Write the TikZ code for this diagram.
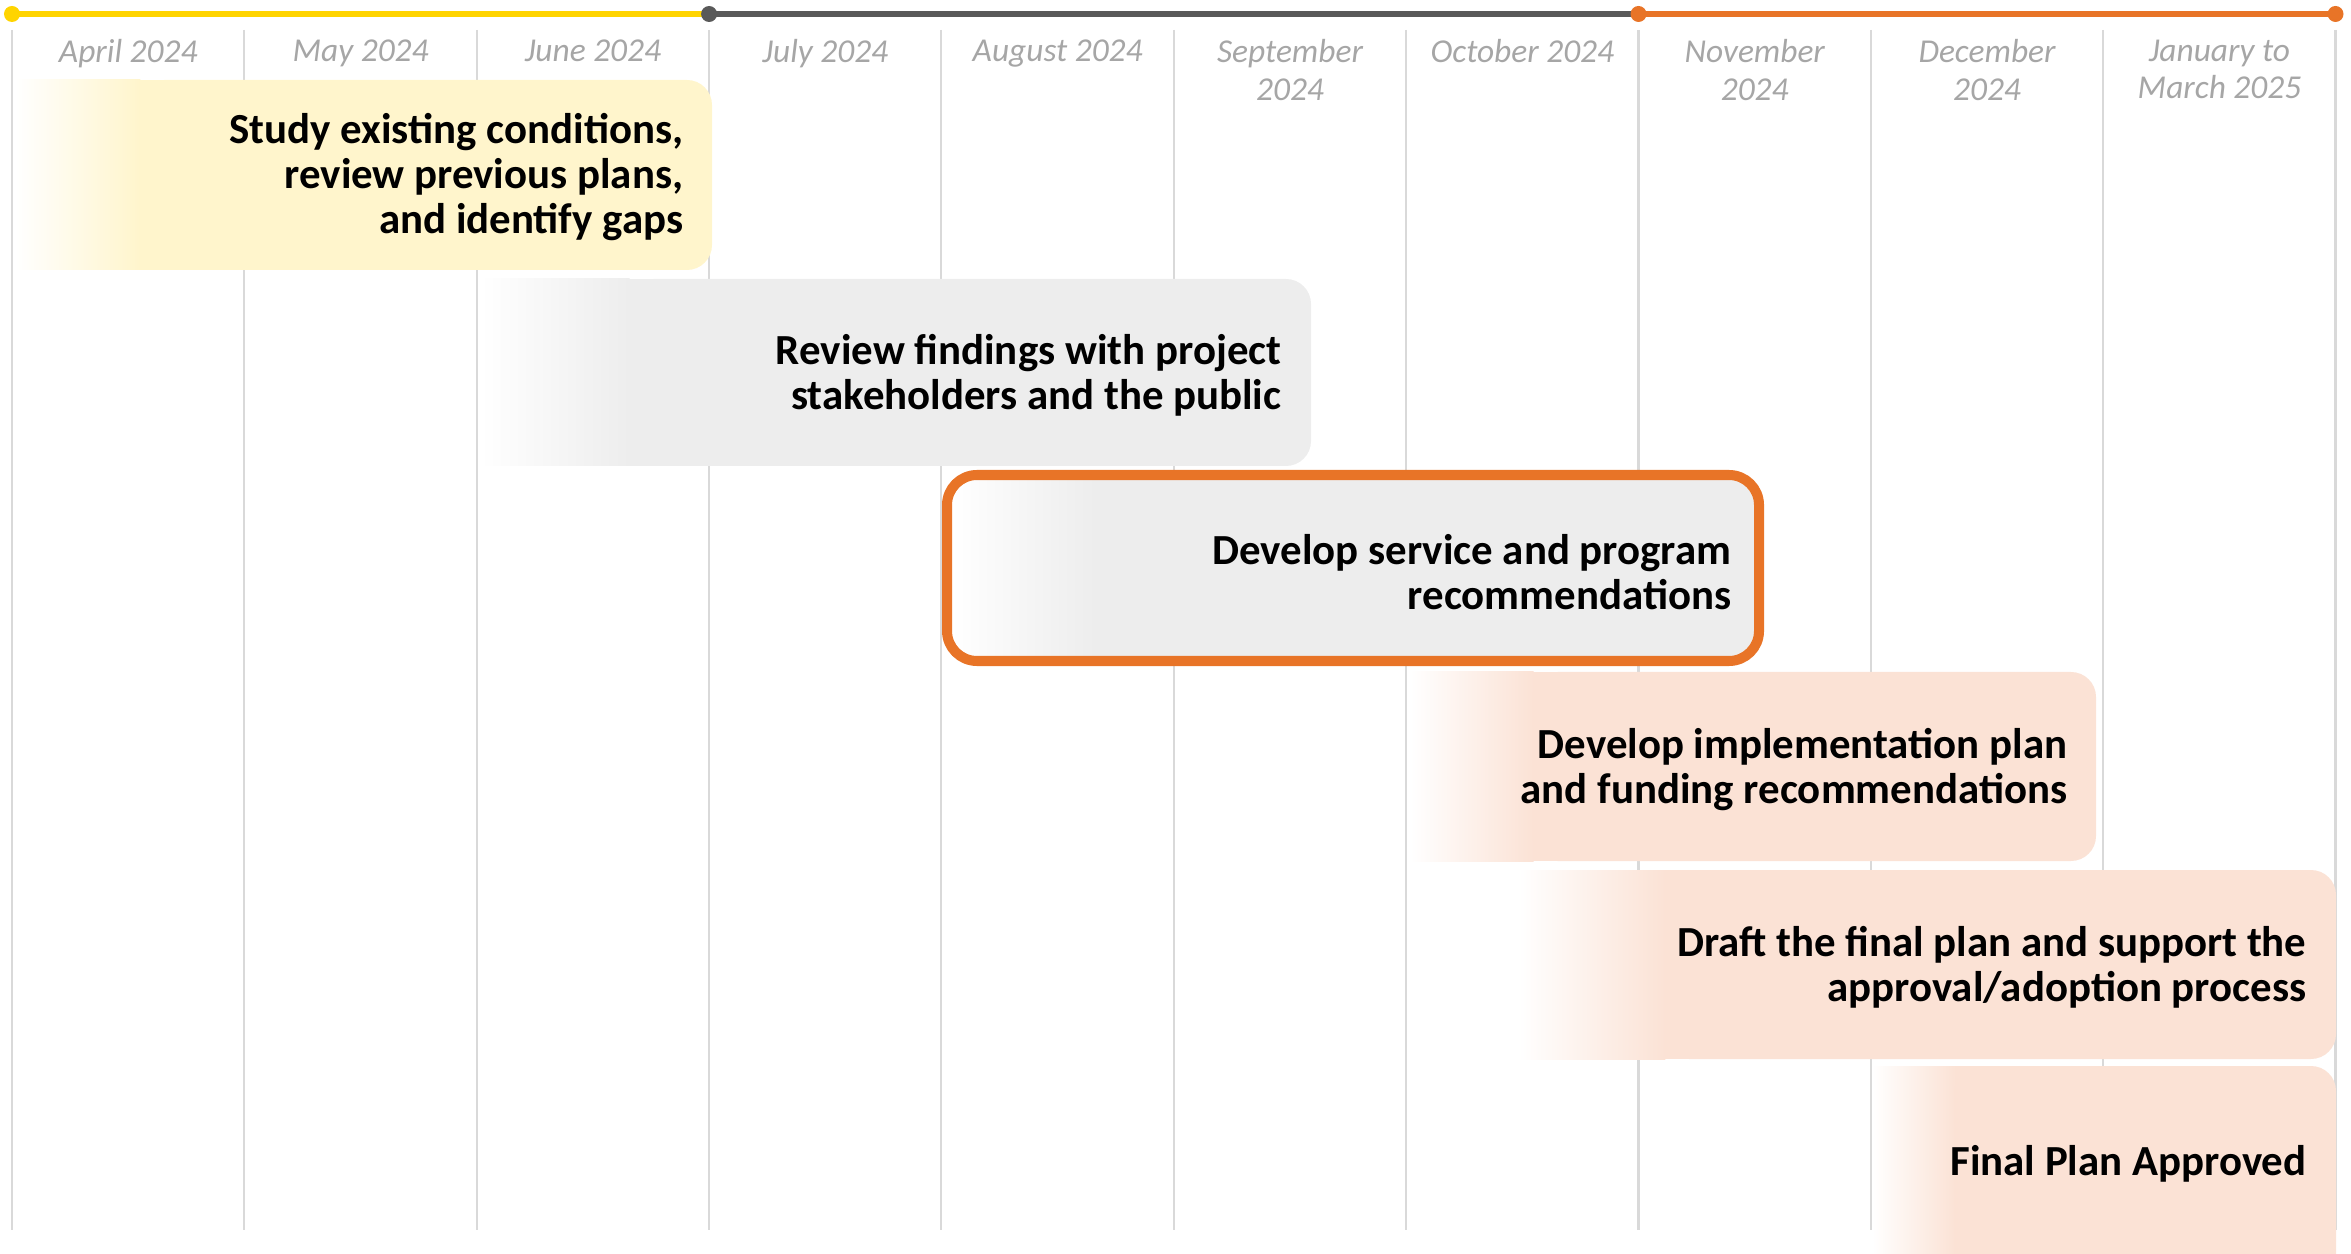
\documentclass[tikz,border=0pt]{standalone}
\usepackage{fontspec}
\setmainfont{Carlito}
\usepackage{tikz}

\definecolor{tlyellow}{HTML}{FFD400}
\definecolor{tlgray}{HTML}{595959}
\definecolor{tlorange}{HTML}{E87427}
\definecolor{gridgray}{HTML}{D9D9D9}
\definecolor{monthgray}{HTML}{A6A6A6}
\definecolor{fillyellow}{HTML}{FFF5CC}
\definecolor{fillgray}{HTML}{EDEDED}
\definecolor{fillpeach}{HTML}{FBE2D5}

\tikzset{gridline/.style={gridgray, line width=0.6pt}}
\tikzset{month/.style={anchor=north, align=center, inner sep=0pt, text=monthgray,
font=\itshape\fontsize{9.5}{10.7}\selectfont}}
\tikzset{task/.style={anchor=east, align=right, inner sep=0pt,
font=\bfseries\fontsize{12.2}{12.8}\selectfont}}
\tikzset{dot/.style={circle, fill=#1, inner sep=0pt, minimum size=0.16cm}}
\tikzset{phase/.style={line width=1.8pt, #1}}

% left, top, right, bottom, colour
\newcommand{\fadebar}[5]{
  \pgfmathsetmacro{\barfw}{0.18*(#3-#1)}
  \shade[left color=white, right color=#5] (#1,#2) rectangle ({#1+\barfw},#4);
  \fill[#5, rounded corners=0.25cm] ({#1+\barfw-0.01},#2) rectangle (#3,#4);
  \fill[#5] ({#1+\barfw-0.01},#2) rectangle ({#1+\barfw+0.3},#4);
}

\begin{document}
\begin{tikzpicture}[
]
\clip (0,0) rectangle (23.51,-12.54);

\draw [gridline] (0.12,-0.30) -- (0.12,-12.30);
\draw [gridline] (2.444,-0.30) -- (2.444,-12.30);
\draw [gridline] (4.767,-0.30) -- (4.767,-12.30);
\draw [gridline] (7.091,-0.30) -- (7.091,-12.30);
\draw [gridline] (9.414,-0.30) -- (9.414,-12.30);
\draw [gridline] (11.738,-0.30) -- (11.738,-12.30);
\draw [gridline] (14.061,-0.30) -- (14.061,-12.30);
\draw [gridline] (16.385,-0.30) -- (16.385,-12.30);
\draw [gridline] (18.708,-0.30) -- (18.708,-12.30);
\draw [gridline] (21.032,-0.30) -- (21.032,-12.30);
\draw [gridline] (23.355,-0.30) -- (23.355,-12.30);

\fadebar{0.15}{-0.80}{7.12}{-2.70}{fillyellow}
\fadebar{4.80}{-2.79}{13.11}{-4.66}{fillgray}
\fadebar{9.50}{-4.78}{17.56}{-6.58}{fillgray}
\fadebar{14.10}{-6.72}{20.96}{-8.61}{fillpeach}
\fadebar{15.18}{-8.70}{23.36}{-10.59}{fillpeach}
\fadebar{18.72}{-10.66}{23.36}{-12.90}{fillpeach}

\draw [tlorange, line width=2.85pt, rounded corners=0.3cm] (9.47,-4.75) rectangle (17.59,-6.61);

\node [task] (t1) at (6.84,-1.77) {Study existing conditions,\\review previous plans,\\and identify gaps};
\node [task] (t2) at (12.82,-3.75) {Review findings with project\\stakeholders and the public};
\node [task] (t3) at (17.32,-5.72) {Develop service and program\\recommendations};
\node [task] (t4) at (20.68,-7.70) {Develop implementation plan\\and funding recommendations};
\node [task] (t5) at (23.07,-9.67) {Draft the final plan and support the\\approval/adoption process};
\node [task] (t6) at (23.07,-11.64) {Final Plan Approved};

\node [month] (m1) at (1.282,-0.39) {April 2024};
\node [month] (m2) at (3.606,-0.39) {May 2024};
\node [month] (m3) at (5.929,-0.39) {June 2024};
\node [month] (m4) at (8.253,-0.39) {July 2024};
\node [month] (m5) at (10.576,-0.39) {August 2024};
\node [month] (m6) at (12.900,-0.39) {September\\2024};
\node [month] (m7) at (15.223,-0.39) {October 2024};
\node [month] (m8) at (17.547,-0.39) {November\\2024};
\node [month] (m9) at (19.870,-0.39) {December\\2024};
\node [month] (m10) at (22.194,-0.39) {January to\\March 2025};

\coordinate (p1) at (0.12,-0.14);
\coordinate (p2) at (7.091,-0.14);
\coordinate (p3) at (16.385,-0.14);
\coordinate (p4) at (23.355,-0.14);

\draw [phase=tlyellow] (p1) -- (p2);
\draw [phase=tlgray] (p2) -- (p3);
\draw [phase=tlorange] (p3) -- (p4);

\node [dot=tlyellow] (d1) at (p1) {};
\node [dot=tlgray] (d2) at (p2) {};
\node [dot=tlorange] (d3) at (p3) {};
\node [dot=tlorange] (d4) at (p4) {};

\end{tikzpicture}
\end{document}
